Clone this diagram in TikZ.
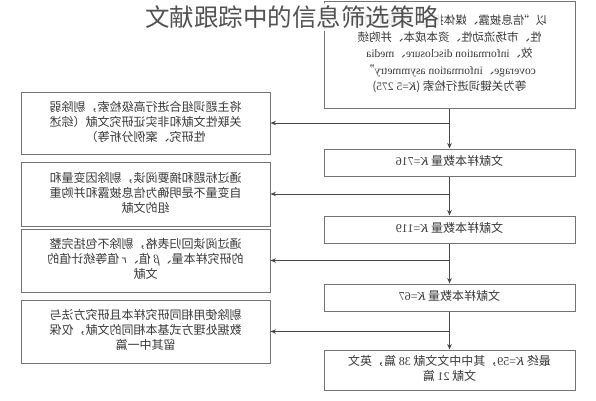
\documentclass[tikz,border=0pt]{standalone}
\usepackage{graphicx}
\usepackage{fontspec}
\setmainfont{Noto Sans CJK SC}
\newfontfamily\romfont{Liberation Serif}
\usetikzlibrary{arrows.meta}

% the picture prints every box text mirrored
\newcommand{\mirtext}[1]{\reflectbox{\begin{tabular}{@{}c@{}}#1\end{tabular}}}

\tikzset{
  stepbox/.style={draw=black!55, line width=1pt, text=black!78, inner sep=0pt,
    minimum width=251pt, font=\fontsize{12}{15}\selectfont},
  sidebox/.style={stepbox, minimum width=249pt},
  flow/.style={draw=black!72, line width=0.9pt, -{Stealth[length=5.5pt,width=4.5pt]}},
}

\begin{document}
\begin{tikzpicture}[x=1pt,y=-1pt]
\useasboundingbox (0,0) rectangle (596,400);
%main column
\node[stepbox, minimum height=107pt, font=\fontsize{11.5}{16.5}\selectfont] (search) at (449.5,54.5)
  {\raisebox{4pt}{\mirtext{以“信息披露、媒体报道、信息不对称\\
  性、市场流动性、资本成本、并购绩\\
  效、{\romfont information disclosure}、{\romfont media}\\
  {\romfont coverage}、{\romfont information asymmetry}”\\
  等为关键词进行检索 ({\romfont\itshape K}{\romfont =5 275})}}};
\node[stepbox, minimum height=27pt] (k716) at (449.5,162.5)
  {\mirtext{文献样本数量 {\romfont\itshape K}{\romfont =716}}};
\node[stepbox, minimum height=27pt] (k119) at (449.5,229.5)
  {\mirtext{文献样本数量 {\romfont\itshape K}{\romfont =119}}};
\node[stepbox, minimum height=27pt] (k67) at (449.5,297.5)
  {\mirtext{文献样本数量 {\romfont\itshape K}{\romfont =67}}};
\node[stepbox, minimum height=40pt] (final) at (449.5,370)
  {\mirtext{最终 {\romfont\itshape K}{\romfont =59}，其中中文文献 {\romfont 38} 篇，英文\\文献 {\romfont 21} 篇}};
%excluded literature
\node[sidebox, minimum height=62pt] (drop1) at (145.5,123)
  {\mirtext{将主题词组合进行高级检索，剔除弱\\关联性文献和非实证研究文献（综述\\性研究、案例分析等）}};
\node[sidebox, minimum height=64pt] (drop2) at (145.5,194)
  {\mirtext{通过标题和摘要阅读，剔除因变量和\\自变量不是明确为信息披露和并购重\\组的文献}};
\node[sidebox, minimum height=63pt] (drop3) at (145.5,260.5)
  {\mirtext{通过阅读回归表格，剔除不包括完整\\的研究样本量、{\romfont\itshape β} 值、{\romfont\itshape r} 值等统计值的\\文献}};
\node[sidebox, minimum height=63pt] (drop4) at (145.5,331.5)
  {\mirtext{剔除使用相同研究样本且研究方法与\\数据处理方式基本相同的文献，仅保\\留其中一篇}};
%connectors
\draw[flow] (search) -- (k716);
\draw[flow] (k716) -- (k119);
\draw[flow] (k119) -- (k67);
\draw[flow] (k67) -- (final);
\draw[flow] (search.south |- drop1.east) -- (drop1.east);
\draw[flow] (search.south |- drop2.east) -- (drop2.east);
\draw[flow] (search.south |- drop3.east) -- (drop3.east);
\draw[flow] (search.south |- drop4.east) -- (drop4.east);
%title over the top box
\node[font=\fontsize{24.5}{25}\selectfont, fill=white, fill opacity=0.85, text opacity=1,
  text=black!68, inner xsep=2pt, inner ysep=3pt] (title) at (292,17) {文献跟踪中的信息筛选策略};
\end{tikzpicture}
\end{document}
